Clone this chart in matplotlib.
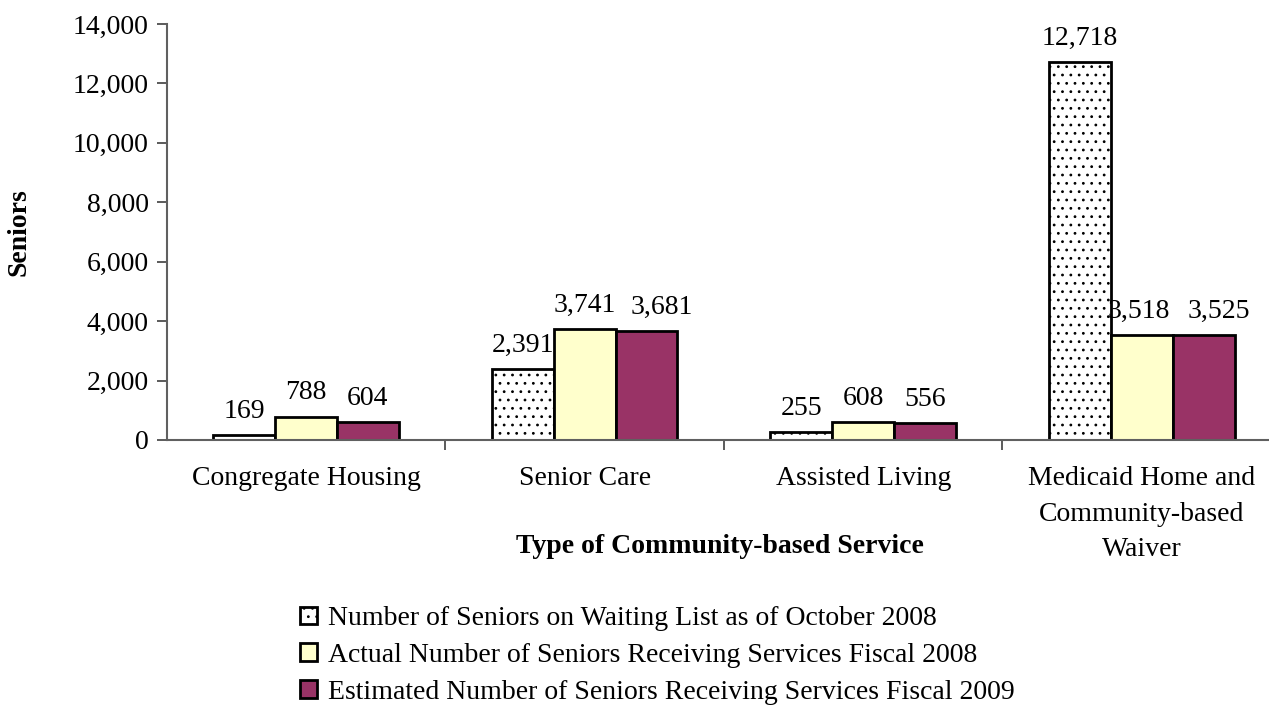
import numpy as np
import matplotlib.pyplot as plt
from matplotlib.ticker import FuncFormatter

plt.rcParams['font.family'] = ['Liberation Serif', 'DejaVu Serif']
plt.rcParams['hatch.color'] = '#707070'
plt.rcParams['hatch.linewidth'] = 0.8

services = ['Congregate Housing', 'Senior Care', 'Assisted Living',
            'Medicaid Home and\nCommunity-based\nWaiver']
waiting_2008 = [169, 2391, 255, 12718]
actual_2008 = [788, 3741, 608, 3518]
estimated_2009 = [604, 3681, 556, 3525]
series_names = ['Number of Seniors on Waiting List as of October 2008',
                'Actual Number of Seniors Receiving Services Fiscal 2008',
                'Estimated Number of Seniors Receiving Services Fiscal 2009']

fs = 20
fig = plt.figure(figsize=(12.69, 7.06), dpi=100)
ax = fig.add_axes([0.1314, 0.3768, 0.8781, 0.5892])

x = np.arange(len(services))
w = 0.222
styles = [dict(color='white', hatch='..'),
          dict(color='#FFFFCC'),
          dict(color='#993366')]
# nudge crowded labels sideways (points) so neighbours don't collide
nudge = {(2, 1): 11, (2, 3): 11, (1, 3): -2}
handles = []
for i, (vals, st) in enumerate(zip([waiting_2008, actual_2008, estimated_2009], styles)):
    bars = ax.bar(x + (i - 1) * w, vals, w, edgecolor='black', linewidth=2,
                  label=series_names[i], **st)
    handles.append(bars)
    for j, (b, v) in enumerate(zip(bars, vals)):
        ax.annotate(f'{v:,}', (b.get_x() + b.get_width() / 2, v),
                    xytext=(nudge.get((i, j), 0), 8), textcoords='offset points',
                    ha='center', va='bottom', fontsize=fs)

ax.set_xlim(-0.5, len(services) - 0.5)
ax.set_ylim(0, 14000)
ax.set_yticks(np.arange(0, 14001, 2000))
ax.yaxis.set_major_formatter(FuncFormatter(lambda v, p: f'{int(v):,}'))

# category separators as ticks, labels on the centers
ax.set_xticks(np.arange(0.5, len(services) - 0.5, 1))
ax.set_xticklabels([])
ax.set_xticks(x, minor=True)
ax.set_xticklabels(services, minor=True, fontsize=fs, linespacing=1.55)
ax.tick_params(axis='x', which='minor', length=0, pad=19)
ax.tick_params(axis='x', which='major', length=7, width=1.2, color='#404040')
ax.tick_params(axis='y', length=7, width=1.2, color='#404040', labelsize=fs, pad=6)

for s in ['top', 'right']:
    ax.spines[s].set_visible(False)
for s in ['left', 'bottom']:
    ax.spines[s].set_color('#606060')
    ax.spines[s].set_linewidth(1.5)

ax.set_ylabel('Seniors', fontsize=fs, fontweight='bold', labelpad=30)
fig.text(0.567, 0.226, 'Type of Community-based Service', ha='center', va='center',
         fontsize=fs, fontweight='bold')

fig.legend(handles=handles, loc='upper left', bbox_to_anchor=(0.228, 0.157),
           frameon=False, fontsize=fs, handlelength=0.6, handleheight=0.6,
           handletextpad=0.4, labelspacing=0.42, borderaxespad=0)

fig.savefig('out.png', dpi=100)
